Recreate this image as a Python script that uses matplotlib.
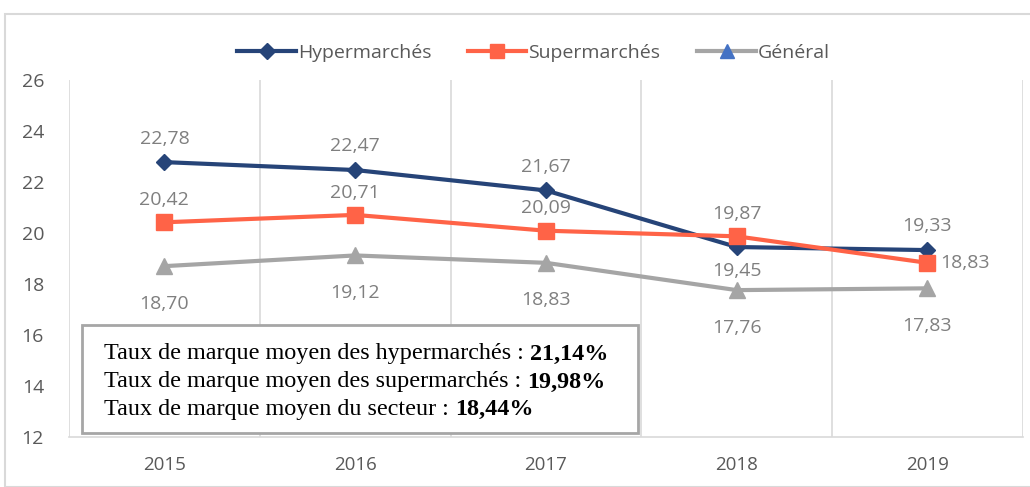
import matplotlib
matplotlib.use("Agg")
import matplotlib.pyplot as plt
from matplotlib.lines import Line2D
from matplotlib.patches import Rectangle

years = ["2015", "2016", "2017", "2018", "2019"]
hyper = [22.78, 22.47, 21.67, 19.45, 19.33]
super_ = [20.42, 20.71, 20.09, 19.87, 18.83]
general = [18.70, 19.12, 18.83, 17.76, 17.83]
series_names = ["Hypermarchés", "Supermarchés", "Général"]
box_lines = [("Taux de marque moyen des hypermarchés : ", "21,14%"),
             ("Taux de marque moyen des supermarchés : ", "19,98%"),
             ("Taux de marque moyen du secteur : ", "18,44%")]

C_H = "#264478"
C_S = "#FF6347"
C_G = "#A5A5A5"
TXT = "#7F7F7F"
AX = "#595959"
SANS = ["Open Sans", "DejaVu Sans"]

fig = plt.figure(figsize=(10.3, 4.87), dpi=100)
ax = fig.add_axes([0.067, 0.1027, 0.926, 0.733])
x = list(range(len(years)))

ax.plot(x, hyper, color=C_H, lw=3, marker="D", ms=8, zorder=4)
ax.plot(x, super_, color=C_S, lw=3, marker="s", ms=11, zorder=5)
ax.plot(x, general, color=C_G, lw=3, marker="^", ms=11, zorder=3)

ax.set_xlim(-0.5, 4.5)
ax.set_ylim(12, 26)
ax.set_yticks(range(12, 27, 2))
ax.set_xticks(x)
ax.set_xticklabels(years)
for xv in [i - 0.5 for i in range(6)]:
    ax.axvline(xv, color="#D9D9D9", lw=1.2, zorder=0)
for s in ["top", "right", "left"]:
    ax.spines[s].set_visible(False)
ax.spines["bottom"].set_color("#D9D9D9")
ax.spines["bottom"].set_linewidth(1.2)
ax.tick_params(axis="both", length=0, colors=AX)
ax.tick_params(axis="y", labelsize=14, pad=18)
ax.tick_params(axis="x", labelsize=13.5, pad=14)
for t in ax.get_yticklabels() + ax.get_xticklabels():
    t.set_fontfamily(SANS)

def fmt(v):
    return f"{v:.2f}".replace(".", ",")

def lab(xv, yv, dy, dx=0, ha="center"):
    ax.annotate(fmt(yv), (xv, yv), xytext=(dx, dy), textcoords="offset points",
                ha=ha, va="center", color=TXT, fontsize=14, family=SANS, zorder=6)

for i, v in enumerate(hyper):
    lab(i, v, -17 if i == 3 else 17)
for i, v in enumerate(super_):
    if i == 4:
        lab(i, v, 0, dx=9, ha="left")
    else:
        lab(i, v, 16)
for i, v in enumerate(general):
    lab(i, v, -27)

# text box
bx0, by0, bx1, by1 = 82, 487 - 433, 638, 487 - 325
fig.patches.append(Rectangle((bx0 / 1030, by0 / 487), (bx1 - bx0) / 1030, (by1 - by0) / 487,
                             transform=fig.transFigure, facecolor="white",
                             edgecolor="#A6A6A6", lw=2, zorder=10))
ys = [354, 382, 409]
for (a, b), yy in zip(box_lines, ys):
    t = fig.text(104 / 1030, 1 - yy / 487, a, family="Liberation Serif", fontsize=17.4,
                 va="center", ha="left", color="black", zorder=11)
    fig.canvas.draw()
    bb = t.get_window_extent()
    fig.text(bb.x1 / 1030, 1 - yy / 487, b, family="Liberation Serif", fontsize=17.4,
             fontweight="bold", va="center", ha="left", color="black", zorder=11)

# outer border
fig.patches.append(Rectangle((5 / 1030, 0), 1.2, 1 - 14 / 487, transform=fig.transFigure,
                             facecolor="none", edgecolor="#D9D9D9", lw=1.5, zorder=0))

handles = [Line2D([], [], color=C_H, lw=3, marker="D", ms=8),
           Line2D([], [], color=C_S, lw=3, marker="s", ms=10),
           Line2D([], [], color=C_G, lw=3, marker="^", ms=10, mfc="#4472C4", mec="#4472C4")]
leg = fig.legend(handles, series_names, loc="center", bbox_to_anchor=(0.518, 1 - 53 / 487),
                 ncol=3, frameon=False, handlelength=3.0, handletextpad=0.1,
                 columnspacing=1.9, prop={"family": SANS, "size": 14})
for t in leg.get_texts():
    t.set_color(AX)

fig.savefig("out.png", dpi=100)
